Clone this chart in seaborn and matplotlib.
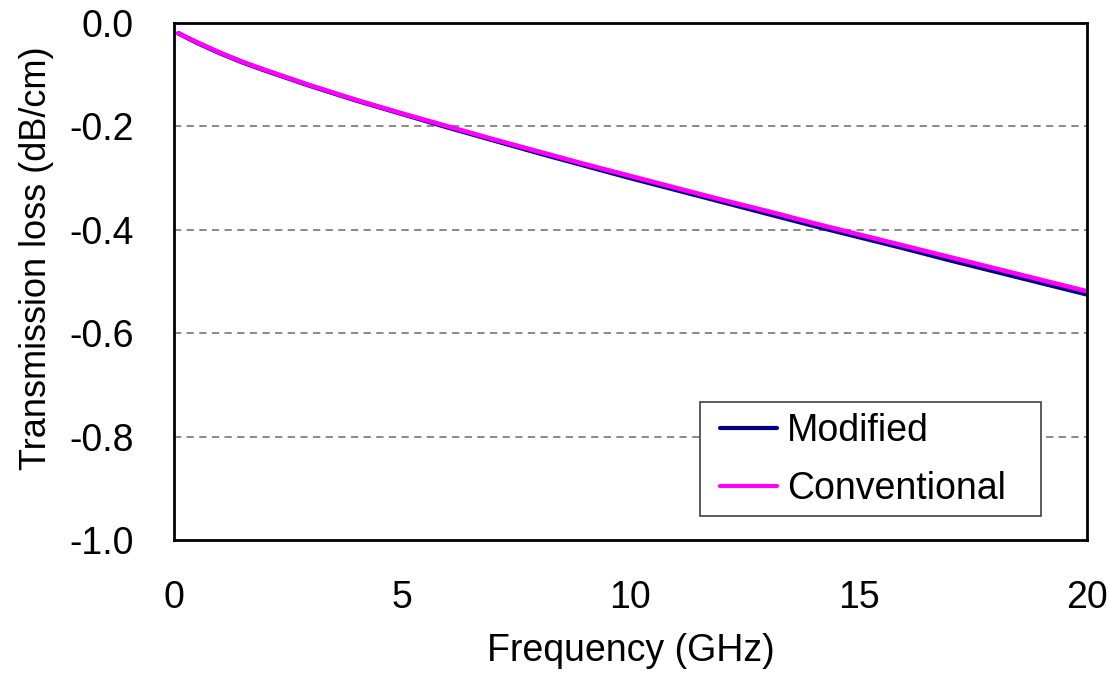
import matplotlib
matplotlib.use("Agg")
import matplotlib.pyplot as plt
from matplotlib.patches import Rectangle
import seaborn as sns
import pandas as pd

# Frequency sweep (GHz) and per-unit-length transmission loss (dB/cm)
freq_ghz = [0.1, 0.5, 1, 1.5, 2, 3, 4, 5, 6, 7, 8, 9, 10,
            11, 12, 13, 14, 15, 16, 17, 18, 19, 20]
loss_modified = [-0.020, -0.038, -0.058, -0.076, -0.092, -0.122, -0.150,
                 -0.176, -0.202, -0.227, -0.252, -0.276, -0.300, -0.323,
                 -0.346, -0.369, -0.392, -0.414, -0.436, -0.459, -0.481,
                 -0.503, -0.525]
loss_conventional = [-0.020, -0.037, -0.057, -0.075, -0.091, -0.121, -0.149,
                     -0.175, -0.200, -0.225, -0.249, -0.273, -0.296, -0.319,
                     -0.342, -0.364, -0.387, -0.409, -0.431, -0.453, -0.475,
                     -0.497, -0.519]
series_names = ["Modified", "Conventional"]
series_colors = ["#000080", "#FF00FF"]

x_ticks = [0, 5, 10, 15, 20]
y_ticks = [0.0, -0.2, -0.4, -0.6, -0.8, -1.0]

df = pd.concat([
    pd.DataFrame({"Frequency": freq_ghz, "Loss": loss_modified, "Structure": series_names[0]}),
    pd.DataFrame({"Frequency": freq_ghz, "Loss": loss_conventional, "Structure": series_names[1]}),
], ignore_index=True)

sns.set_theme(style="white")
plt.rcParams["font.family"] = ["Liberation Sans", "DejaVu Sans"]
plt.rcParams["text.color"] = "black"
plt.rcParams["axes.labelcolor"] = "black"

FS = 27

fig = plt.figure(figsize=(11.07, 6.75), dpi=100)
ax = fig.add_axes([0.157, 0.2, 0.825, 0.766])

sns.lineplot(data=df, x="Frequency", y="Loss", hue="Structure",
             hue_order=series_names, palette=series_colors,
             linewidth=3.3, ax=ax, legend=True)

ax.set_xlim(0, 20)
ax.set_ylim(-1.0, 0.0)
ax.set_xticks(x_ticks)
ax.set_xticklabels([str(v) for v in x_ticks])
ax.set_yticks(y_ticks)
ax.set_yticklabels([f"{v:.1f}" for v in y_ticks])

# dashed horizontal gridlines at the interior y ticks
for yv in y_ticks[1:-1]:
    ax.axhline(yv, color="#808080", linestyle=(0, (4, 3)), linewidth=1.3, zorder=0)

for side in ax.spines.values():
    side.set_color("black")
    side.set_linewidth(2)

ax.tick_params(axis="both", direction="in", length=8, width=1.2, color="#303030",
               labelsize=FS, pad=29, labelcolor="black")

ax.set_xlabel("Frequency (GHz)", fontsize=FS, labelpad=12, color="black")
ax.set_ylabel("Transmission loss (dB/cm)", fontsize=26, color="black")
ax.yaxis.set_label_coords(-0.131, 0.545)

# legend entries without their own frame; a wider box is drawn behind them
leg = ax.legend(loc="center left", bbox_to_anchor=(0.598, 0.155), fontsize=FS,
                frameon=False, handlelength=1.52, handletextpad=0.27,
                borderpad=0, labelspacing=0.58, borderaxespad=0)
for h in leg.get_lines():
    h.set_linewidth(3)
for t in leg.get_texts():
    t.set_color("black")
ax.add_patch(Rectangle((0.576, 0.0464), 0.3736, 0.2206, transform=ax.transAxes,
                       facecolor="white", edgecolor="#404040", linewidth=1.2,
                       zorder=4))
leg.set_zorder(5)

fig.savefig("out.png", dpi=100, facecolor="white")
